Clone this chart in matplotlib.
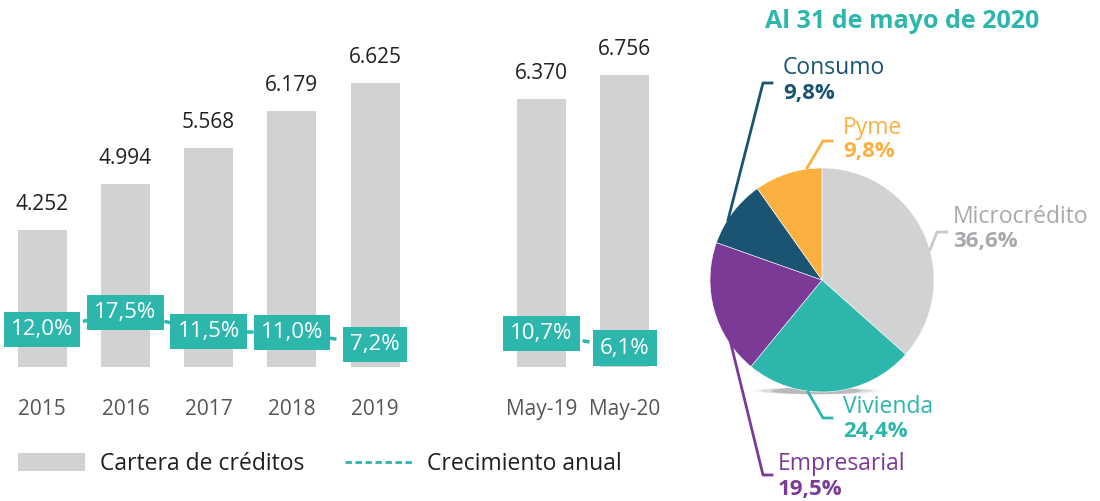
import matplotlib.pyplot as plt
from matplotlib.patches import Patch, Ellipse
from matplotlib.lines import Line2D

plt.rcParams['font.family'] = ['Open Sans', 'DejaVu Sans']

# bar / line data
periods = ["2015", "2016", "2017", "2018", "2019", "May-19", "May-20"]
cartera = [4252, 4994, 5568, 6179, 6625, 6370, 6756]
crecimiento = [12.0, 17.5, 11.5, 11.0, 7.2, 10.7, 6.1]

# pie data
segmentos = ["Microcrédito", "Vivienda", "Empresarial", "Consumo", "Pyme"]
participacion = [36.6, 24.4, 19.5, 9.8, 9.8]

GRAY = "#D1D2D4"
TEAL = "#2DB6AC"
PURPLE = "#7B3A96"
NAVY = "#1A5472"
ORANGE = "#FBB040"
pie_colors = [GRAY, TEAL, PURPLE, NAVY, ORANGE]
label_colors = ["#A7A9AC", TEAL, PURPLE, NAVY, ORANGE]

fig = plt.figure(figsize=(11, 5.01), dpi=100)
W, H = 1100, 501

# ---- bars + growth line ----
ax = fig.add_axes([0.5 / W, 134 / H, 666 / W, 327 / H])
xpos = [0, 1, 2, 3, 4, 6, 7]
ax.bar(xpos, cartera, width=0.59, color=GRAY, zorder=1)
ax.set_xlim(-0.5, 7.5)
ax.set_ylim(2041, 7319)
for x, v in zip(xpos, cartera):
    ax.annotate(f"{v:,}".replace(",", "."), (x, v), xytext=(0, 15), textcoords="offset pixels",
                ha="center", va="bottom", fontsize=15, color="#231F20")
ax.set_xticks(xpos)
ax.set_xticklabels(periods, fontsize=15, color="#555555")
ax.tick_params(axis="x", length=0, pad=23)
ax.set_yticks([])
for s in ax.spines.values():
    s.set_visible(False)

ax2 = ax.twinx()
ax2.set_ylim(0, 105.2)
ax2.plot(xpos[:5], crecimiento[:5], color=TEAL, ls=(0, (2, 2)), lw=2.5, zorder=1)
ax2.plot(xpos[5:], crecimiento[5:], color=TEAL, ls=(0, (2, 2)), lw=2.5, zorder=1)
for x, v in zip(xpos, crecimiento):
    ax2.text(x, v, f"{v:.1f}%".replace(".", ","), ha="center", va="center", fontsize=16,
             color="white", zorder=3,
             bbox=dict(boxstyle="square,pad=0.32", fc=TEAL, ec="none"))
ax2.set_yticks([])
for s in ax2.spines.values():
    s.set_visible(False)

handles = [Patch(facecolor=GRAY, edgecolor="none"),
           Line2D([0], [0], color=TEAL, ls=(0, (2.3, 1.3)), lw=2)]
fig.legend(handles, ["Cartera de créditos", "Crecimiento anual"], loc="center left",
           bbox_to_anchor=(9 / W, 1 - 464 / H), ncol=2, frameon=False, fontsize=16.5,
           labelcolor="#231F20", handlelength=2.93, handleheight=0.79, handletextpad=0.65,
           columnspacing=1.75, borderaxespad=0)

# ---- pie ----
R = 112
cx, cy = 822, 280
pax = fig.add_axes([(cx - R) / W, (H - cy - R) / H, 2 * R / W, 2 * R / H])
# soft shadow under the pie
for w, a in [(1.15, 0.06), (1.0, 0.12), (0.8, 0.2)]:
    pax.add_patch(Ellipse((-0.05, -0.99), w, 0.06, color="#333333", alpha=a, lw=0,
                          zorder=0, clip_on=False))
pax.pie(participacion, colors=pie_colors, startangle=90, counterclock=False, radius=1,
        wedgeprops=dict(linewidth=0.4, edgecolor="white", zorder=2))
pax.set_xlim(-1, 1)
pax.set_ylim(-1, 1)
pax.set_aspect("equal")

def d(px, py):
    return ((px - cx) / R, (cy - py) / R)

# leader lines (pixel points) and label anchor
leaders = {
    "Microcrédito": ([(930, 250), (937, 232), (947, 232)], (953, 217, 242)),
    "Vivienda": ([(808, 392), (823, 418), (832, 418)], (843, 407, 431)),
    "Empresarial": ([(730, 340), (763, 475), (772, 475)], (778, 464, 489)),
    "Consumo": ([(728, 220), (763, 83), (772, 83)], (783, 68, 93)),
    "Pyme": ([(807, 168), (823, 141), (832, 141)], (843, 128, 152)),
}
for name, pct, col in zip(segmentos, participacion, label_colors):
    pts, (tx, ty1, ty2) = leaders[name]
    xs, ys = zip(*[d(*p) for p in pts])
    lc = "#C8C9CB" if name == "Microcrédito" else col
    pax.plot(xs, ys, color=lc, lw=2, clip_on=False, zorder=3)
    pax.text(*d(tx, ty1), name, color=col, fontsize=16.5, ha="left", va="center", clip_on=False)
    pax.text(*d(tx, ty2), f"{pct:.1f}%".replace(".", ","), color=col, fontsize=16,
             fontweight="bold", ha="left", va="center", clip_on=False)

fig.text(902 / W, 1 - 22 / H, "Al 31 de mayo de 2020", color=TEAL, fontsize=18,
         fontweight="bold", ha="center", va="center")

fig.savefig("out.png", dpi=100)
